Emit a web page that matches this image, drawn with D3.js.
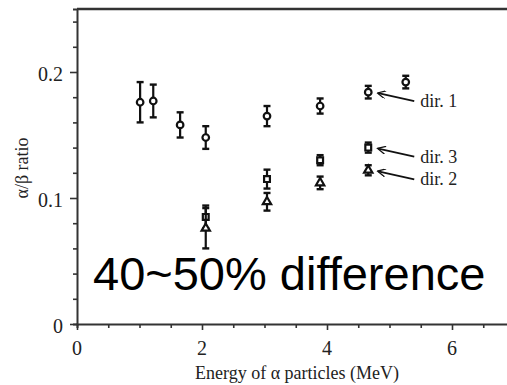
<!DOCTYPE html>
<html>
<head>
<meta charset="utf-8">
<script src="https://cdn.jsdelivr.net/npm/d3@7"></script>
<style>
  body { margin: 0; background: #fff; }
  svg { display: block; }
</style>
</head>
<body>
<div id="chart"></div>
<script>
// energies (MeV) and alpha/beta ratios
const dir1Energy = [1.01, 1.22, 1.65, 2.06, 3.04, 3.89, 4.66, 5.26];
const dir1Ratio  = [0.176, 0.177, 0.158, 0.148, 0.165, 0.173, 0.184, 0.192];
const dir1Err    = [0.016, 0.013, 0.010, 0.009, 0.008, 0.006, 0.005, 0.005];

const dir3Energy = [2.06, 3.04, 3.89, 4.66];
const dir3Ratio  = [0.085, 0.115, 0.130, 0.140];
const dir3Err    = [0.009, 0.0075, 0.004, 0.004];

const dir2Energy = [2.06, 3.04, 3.89, 4.66];
const dir2Ratio  = [0.076, 0.097, 0.112, 0.122];
const dir2Err    = [0.016, 0.007, 0.005, 0.004];

const xTicks = [0, 2, 4, 6];
const yTicks = [0, 0.1, 0.2];

const labels = [
  { text: 'dir. 1', e: 4.66, v: 0.184 },
  { text: 'dir. 3', e: 4.66, v: 0.140 },
  { text: 'dir. 2', e: 4.66, v: 0.122 }
];

const width = 507, height = 385;
const margin = { top: 9, left: 77, bottom: 61 };

const x = d3.scaleLinear().domain([0, 7]).range([margin.left, margin.left + 437.5]);
const y = d3.scaleLinear().domain([0, 0.25]).range([height - margin.bottom, margin.top]);

const svg = d3.select('#chart').append('svg')
  .attr('width', width)
  .attr('height', height);

const serif = '"Liberation Serif", "Times New Roman", serif';

// frame top line
svg.append('line')
  .attr('x1', x(0)).attr('x2', width)
  .attr('y1', y(0.25)).attr('y2', y(0.25))
  .attr('stroke', '#333').attr('stroke-width', 2.5);

// x axis
const xAxis = svg.append('g')
  .attr('transform', `translate(0,${y(0)})`)
  .call(d3.axisBottom(x).tickValues(d3.range(0, 7.01, 0.5)).tickSize(4).tickFormat(''));
xAxis.select('.domain').attr('stroke', '#333').attr('stroke-width', 2);
xAxis.selectAll('.tick line').attr('stroke', '#333').attr('stroke-width', 1.6)
  .attr('y2', d => xTicks.includes(d) ? 6 : 4);

svg.append('g')
  .selectAll('text')
  .data(xTicks)
  .join('text')
  .attr('x', d => x(d))
  .attr('y', y(0) + 31)
  .attr('text-anchor', 'middle')
  .attr('font-family', serif)
  .attr('font-size', 20)
  .attr('fill', '#222')
  .text(d => d);

// y axis
const yAxis = svg.append('g')
  .attr('transform', `translate(${x(0)},0)`)
  .call(d3.axisLeft(y).tickValues(d3.range(0, 0.2401, 0.02)).tickSize(4).tickFormat(''));
yAxis.select('.domain').attr('stroke', '#333').attr('stroke-width', 2);
yAxis.selectAll('.tick line').attr('stroke', '#333').attr('stroke-width', 1.6)
  .attr('x2', (d, i) => (i % 5 === 0) ? -7 : -4);

svg.append('g')
  .selectAll('text')
  .data(yTicks)
  .join('text')
  .attr('x', x(0) - 14)
  .attr('y', d => y(d) + 9)
  .attr('text-anchor', 'end')
  .attr('font-family', serif)
  .attr('font-size', 20)
  .attr('fill', '#222')
  .text(d => d);

// axis titles
svg.append('text')
  .attr('x', 297).attr('y', 379)
  .attr('text-anchor', 'middle')
  .attr('font-family', serif)
  .attr('font-size', 18)
  .attr('fill', '#222')
  .text('Energy of α particles (MeV)');

svg.append('text')
  .attr('transform', 'translate(28,168) rotate(-90)')
  .attr('text-anchor', 'middle')
  .attr('font-family', serif)
  .attr('font-size', 18)
  .attr('fill', '#222')
  .text('α/β ratio');

// error bars + markers
function drawSeries(energy, ratio, err, shape) {
  const pts = energy.map((e, i) => ({ e, v: ratio[i], s: err[i] }));
  const g = svg.append('g').attr('stroke', '#111').attr('fill', 'none');

  g.selectAll('.bar').data(pts).join('line')
    .attr('x1', d => x(d.e)).attr('x2', d => x(d.e))
    .attr('y1', d => y(d.v - d.s)).attr('y2', d => y(d.v + d.s))
    .attr('stroke-width', 2.2);
  g.selectAll('.capTop').data(pts).join('line')
    .attr('x1', d => x(d.e) - 3.5).attr('x2', d => x(d.e) + 3.5)
    .attr('y1', d => y(d.v + d.s)).attr('y2', d => y(d.v + d.s))
    .attr('stroke-width', 2.4);
  g.selectAll('.capBot').data(pts).join('line')
    .attr('x1', d => x(d.e) - 3.5).attr('x2', d => x(d.e) + 3.5)
    .attr('y1', d => y(d.v - d.s)).attr('y2', d => y(d.v - d.s))
    .attr('stroke-width', 2.4);

  const sym = shape === 'circle' ? d3.symbolCircle
    : shape === 'square' ? d3.symbolSquare : d3.symbolTriangle;
  const size = shape === 'circle' ? 34 : shape === 'square' ? 34 : 30;
  g.selectAll('path').data(pts).join('path')
    .attr('transform', d => `translate(${x(d.e)},${y(d.v)})`)
    .attr('d', d3.symbol().type(sym).size(size))
    .attr('fill', '#fff')
    .attr('stroke-width', 2.2);
}

drawSeries(dir1Energy, dir1Ratio, dir1Err, 'circle');
drawSeries(dir3Energy, dir3Ratio, dir3Err, 'square');
drawSeries(dir2Energy, dir2Ratio, dir2Err, 'triangle');

// arrows to the series labels
svg.append('defs').append('marker')
  .attr('id', 'head')
  .attr('viewBox', '0 0 10 10')
  .attr('refX', 9).attr('refY', 5)
  .attr('markerWidth', 10).attr('markerHeight', 8)
  .attr('markerUnits', 'userSpaceOnUse')
  .attr('orient', 'auto')
  .append('path')
  .attr('d', 'M0,0 L10,5 L0,10')
  .attr('fill', 'none')
  .attr('stroke', '#111')
  .attr('stroke-width', 1.6);

const ann = svg.append('g');
ann.selectAll('line').data(labels).join('line')
  .attr('x1', d => x(d.e) + 46).attr('y1', d => y(d.v) + 9)
  .attr('x2', d => x(d.e) + 10).attr('y2', d => y(d.v) + 1)
  .attr('stroke', '#111').attr('stroke-width', 1.8)
  .attr('marker-end', 'url(#head)');
ann.selectAll('text').data(labels).join('text')
  .attr('x', d => x(d.e) + 52).attr('y', d => y(d.v) + 15)
  .attr('font-family', serif)
  .attr('font-size', 18)
  .attr('fill', '#222')
  .text(d => d.text);

// big overlay note
svg.append('text')
  .attr('x', 93).attr('y', 290)
  .attr('font-family', '"Liberation Sans", Arial, sans-serif')
  .attr('font-size', 47)
  .attr('fill', '#000')
  .text('40~50% difference');
</script>
</body>
</html>
